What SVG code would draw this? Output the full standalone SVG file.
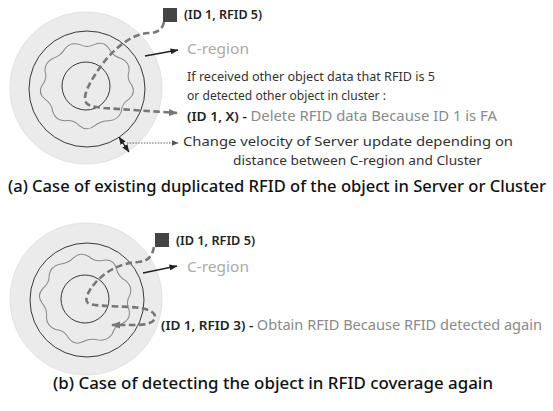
<svg xmlns="http://www.w3.org/2000/svg" width="553" height="411" viewBox="0 0 553 411">
  <defs>
    <style>
      .disc{fill:#ebebeb;stroke:#e2e2e2;stroke-width:1}
      .ring{fill:none;stroke:#3a3a3a;stroke-width:1}
      .blob{fill:none;stroke:#8a8a8a;stroke-width:1}
      .track{fill:none;stroke:#777;stroke-width:2.6;stroke-dasharray:6.5 3.5}
      .pointer{fill:none;stroke:#222;stroke-width:1.3}
      .dotted{fill:none;stroke:#555;stroke-width:1.2;stroke-dasharray:1.4 1.4}
      .object{fill:#444}
      text{font-family:"Noto Sans","Liberation Sans",sans-serif}
      .tag{font-size:13px;font-weight:600;fill:#222}
      .region{font-size:15px;fill:#aaa}
      .note{font-size:13px;fill:#333}
      .muted{fill:#8a8a8a;font-weight:400}
      .caption{font-size:16.5px;font-weight:500;fill:#111}
    </style>
    <marker id="grayHead" markerUnits="userSpaceOnUse" markerWidth="9" markerHeight="8" refX="8" refY="4" orient="auto">
      <path d="M0,0.5 L9,4 L0,7.5 Z" fill="#777"/>
    </marker>
    <marker id="blackHead" markerUnits="userSpaceOnUse" markerWidth="8" markerHeight="6" refX="7.5" refY="3" orient="auto-start-reverse">
      <path d="M0,0 L8,3 L0,6 Z" fill="#222"/>
    </marker>
    <marker id="dotHead" markerUnits="userSpaceOnUse" markerWidth="7" markerHeight="6" refX="6.5" refY="3" orient="auto">
      <path d="M0,0 L7,3 L0,6 Z" fill="#555"/>
    </marker>
    <!-- wavy cluster outline, nine uneven lobes around the origin -->
    <path id="cluster" d="M43,0 Q47.27,8.33 40.41,14.71 Q33.34,19.25 32.94,27.64 Q30.21,36 21.5,37.24 Q13.51,37.12 7.46,42.35 Q0,49 -7.46,42.35 Q-13,35.71 -21.5,37.24 Q-30.53,36.39 -32.94,27.64 Q-33.77,19.5 -40.41,14.71 Q-47.76,8.42 -43,0 Q-37.91,-6.68 -40.41,-14.71 Q-40.7,-23.5 -32.94,-27.64 Q-25.39,-30.26 -21.5,-37.24 Q-16.42,-45.11 -7.46,-42.35 Q0,-38 7.46,-42.35 Q16.76,-46.04 21.5,-37.24 Q25.07,-29.87 32.94,-27.64 Q41.14,-23.75 40.41,-14.71 Q37.91,-6.68 43,0 Z"/>
  </defs>

  <!-- (a) duplicated RFID -->
  <g id="regionA">
    <circle class="disc" cx="86" cy="88" r="76"/>
    <circle class="ring" cx="87" cy="89" r="58"/>
    <use href="#cluster" class="blob" transform="translate(87,85) scale(1.04,0.96)"/>
    <circle class="ring" cx="86" cy="86" r="24"/>
  </g>
  <g id="objectA">
    <rect class="object" x="163" y="8" width="14" height="14"/>
    <text class="tag" x="184" y="19" textLength="78" lengthAdjust="spacingAndGlyphs">(ID 1, RFID 5)</text>
  </g>
  <g id="cregionA">
    <text class="region" x="187" y="54" textLength="62" lengthAdjust="spacingAndGlyphs">C-region</text>
  </g>
  <g id="conditionA">
    <text class="note" x="187" y="81" textLength="248" lengthAdjust="spacingAndGlyphs">If received other object data that RFID is 5</text>
    <text class="note" x="187" y="100" textLength="199" lengthAdjust="spacingAndGlyphs">or detected other object in cluster :</text>
  </g>
  <g id="resultA">
    <text class="tag" x="187" y="121" textLength="310" lengthAdjust="spacingAndGlyphs">(ID 1, X) - <tspan class="muted" font-size="14">Delete RFID data Because ID 1 is FA</tspan></text>
  </g>
  <g id="velocityA">
    <text class="note" x="183" y="146" textLength="330" lengthAdjust="spacingAndGlyphs">Change velocity of Server update depending on</text>
    <text class="note" x="233" y="165" textLength="249" lengthAdjust="spacingAndGlyphs">distance between C-region and Cluster</text>
  </g>
  <g id="captionA">
    <text class="caption" x="8" y="192" textLength="538" lengthAdjust="spacingAndGlyphs">(a) Case of existing duplicated RFID of the object in Server or Cluster</text>
  </g>

  <!-- (b) RFID detected again -->
  <g id="regionB">
    <circle class="disc" cx="86" cy="299" r="76"/>
    <circle class="ring" cx="87" cy="300" r="57"/>
    <use href="#cluster" class="blob" transform="translate(86,299) rotate(14) scale(1.03,0.99)"/>
    <circle class="ring" cx="85" cy="299" r="24"/>
  </g>
  <g id="objectB">
    <rect class="object" x="155" y="233" width="14" height="14"/>
    <text class="tag" x="176" y="245" textLength="79" lengthAdjust="spacingAndGlyphs">(ID 1, RFID 5)</text>
  </g>
  <g id="cregionB">
    <text class="region" x="187" y="272" textLength="62" lengthAdjust="spacingAndGlyphs">C-region</text>
  </g>
  <g id="resultB">
    <text class="tag" x="161" y="330" textLength="381" lengthAdjust="spacingAndGlyphs">(ID 1, RFID 3) - <tspan class="muted" font-size="14">Obtain RFID Because RFID detected again</tspan></text>
  </g>
  <g id="captionB">
    <text class="caption" x="53" y="389" textLength="440" lengthAdjust="spacingAndGlyphs">(b) Case of detecting the object in RFID coverage again</text>
  </g>

  <g id="connectors">
    <!-- object tracks -->
    <path class="track" marker-end="url(#grayHead)" d="M164,22 C162,31 156,33 148,33 C132,34 115,48 104,62 C92,78 84,92 85,100 C86,106 94,107 104,108 L177,113"/>
    <path class="track" marker-end="url(#grayHead)" d="M154,247 C152,257 148,261 138,262 C120,263 105,272 96,282 C88,291 84,300 88,303 C92,306 110,306 130,307 C148,308 156,312 155,318 C154,323 145,325 135,325 L112,325"/>
    <!-- C-region pointers -->
    <path class="pointer" marker-end="url(#blackHead)" d="M145,56 L178,50"/>
    <path class="pointer" marker-end="url(#blackHead)" d="M143,273 L177,266"/>
    <!-- gap between cluster ring and C-region -->
    <path class="pointer" marker-start="url(#blackHead)" marker-end="url(#blackHead)" d="M119,137 L129,152"/>
    <path class="dotted" marker-end="url(#dotHead)" d="M127,143 L178,143"/>
  </g>
</svg>
